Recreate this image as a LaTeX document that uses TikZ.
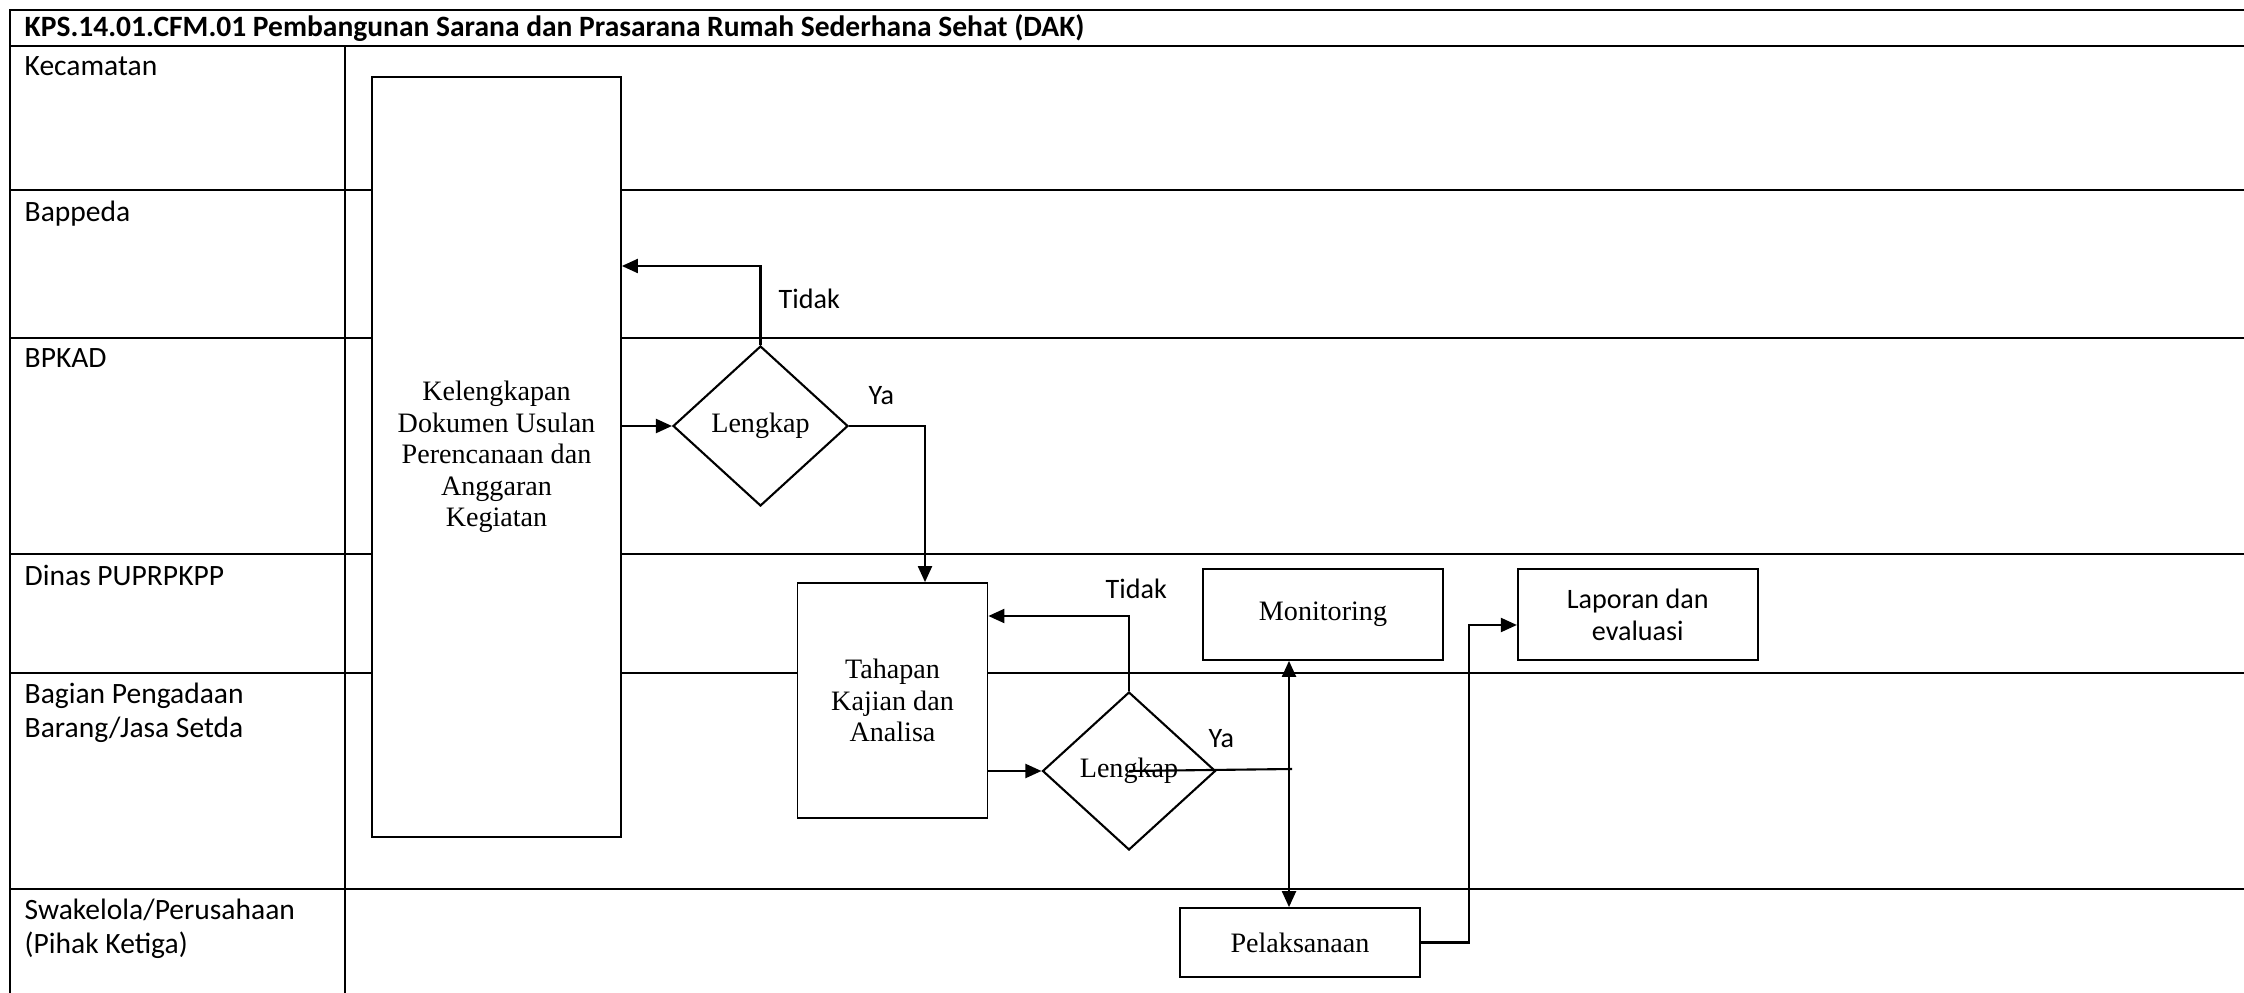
\documentclass[tikz,border=0pt]{standalone}
\usepackage{fontspec}
\setmainfont{Carlito}
\newfontfamily\boxfont{Liberation Serif}
\usetikzlibrary{arrows.meta,positioning,shapes.geometric}
\tikzset{
  lane/.style={line width=.65pt, draw=black},
  blk/.style={draw, line width=.5pt, fill=white, align=center, inner sep=2pt, font=\boxfont\fontsize{8}{9}\selectfont},
  dmd/.style={blk, diamond, line width=.6pt, inner sep=1pt, minimum width=17.5mm, minimum height=16mm},
  ar/.style={-{Triangle[length=1.6mm, width=1.4mm]}, line width=.6pt},
  ln/.style={line width=.6pt},
  lbl/.style={font=\fontsize{8.4}{9.7}\selectfont, inner sep=0pt, align=left, anchor=north west},
  ket/.style={font=\fontsize{8}{9.7}\selectfont, inner sep=0pt, anchor=base west},
}
\begin{document}
\begin{tikzpicture}[x=0.1mm, y=-0.1mm]
  \useasboundingbox (0,0) rectangle (2244,993);
  % lajur
  \draw[lane] (2244,10) -- (10,10) -- (10,993);
  \draw[lane] (345,46) -- (345,993);
  \foreach \y in {46,190,338,554,673,889}{\draw[lane] (10,\y) -- (2244,\y);}

  \node[lbl, anchor=base west, font=\bfseries\fontsize{8.4}{9.7}\selectfont] (judul) at (24,37) {KPS.14.01.CFM.01 Pembangunan Sarana dan Prasarana Rumah Sederhana Sehat (DAK)};
  \node[lbl] (kec) at (24,56) {Kecamatan};
  \node[lbl] (bap) at (24,200) {Bappeda};
  \node[lbl] (bpk) at (24,348) {BPKAD};
  \node[lbl] (din) at (24,564) {Dinas PUPRPKPP};
  \node[lbl] (bag) at (24,682) {Bagian Pengadaan\\Barang/Jasa Setda};
  \node[lbl] (swa) at (24,898) {Swakelola/Perusahaan\\(Pihak Ketiga)};

  % proses
  \node[blk, minimum width=24.9mm, minimum height=76mm] (kel) at (496.5,457) {Kelengkapan\\Dokumen Usulan\\Perencanaan dan\\Anggaran\\Kegiatan};
  \node[dmd] (cek1) at (760.5,426) {Lengkap};
  \node[blk, minimum width=19mm, minimum height=23.5mm] (kaji) at (892.5,700.5) {Tahapan\\Kajian dan\\Analisa};
  \node[dmd, minimum width=17.3mm, minimum height=15.8mm] (cek2) at (1129,771) {Lengkap};
  \node[blk, minimum width=24mm, minimum height=9.1mm] (mon) at (1323,614.5) {Monitoring};
  \node[blk, right=7.3mm of mon, font=\fontsize{8}{9.1}\selectfont, minimum width=24mm, minimum height=9.1mm] (lap) {Laporan dan\\evaluasi};
  \node[blk, minimum width=24mm, minimum height=6.9mm] (pel) at (1300,942.5) {Pelaksanaan};

  \draw[ar] (cek1.west -| kel.east) -- (cek1.west);
  \draw[ar] (cek1.north) |- ([yshift=19.1mm]kel.east);
  \draw[ar] (cek1.east) -| ([xshift=3.25mm]kaji.north);
  \draw[ar] (cek2.west -| kaji.east) -- (cek2.west);
  \draw[ar] (cek2.north) |- ([yshift=8.45mm]kaji.east);
  \coordinate (cabang) at (1289,769);
  \draw[ln] (cek2.center) -- ([xshift=.3mm]cabang);
  \draw[ar] (cabang) -- (cabang |- mon.south);
  \draw[ar] (cabang) -- (cabang |- pel.north);
  \draw[ar] (pel.east) -- ++(48.5,0) |- ([yshift=-1.05mm]lap.west);

  \node[ket] (tidak1) at (778,309) {Tidak};
  \node[ket] (ya1) at (868,405) {Ya};
  \node[ket] (tidak2) at (1105,599) {Tidak};
  \node[ket] (ya2) at (1208,747) {Ya};
\end{tikzpicture}
\end{document}
